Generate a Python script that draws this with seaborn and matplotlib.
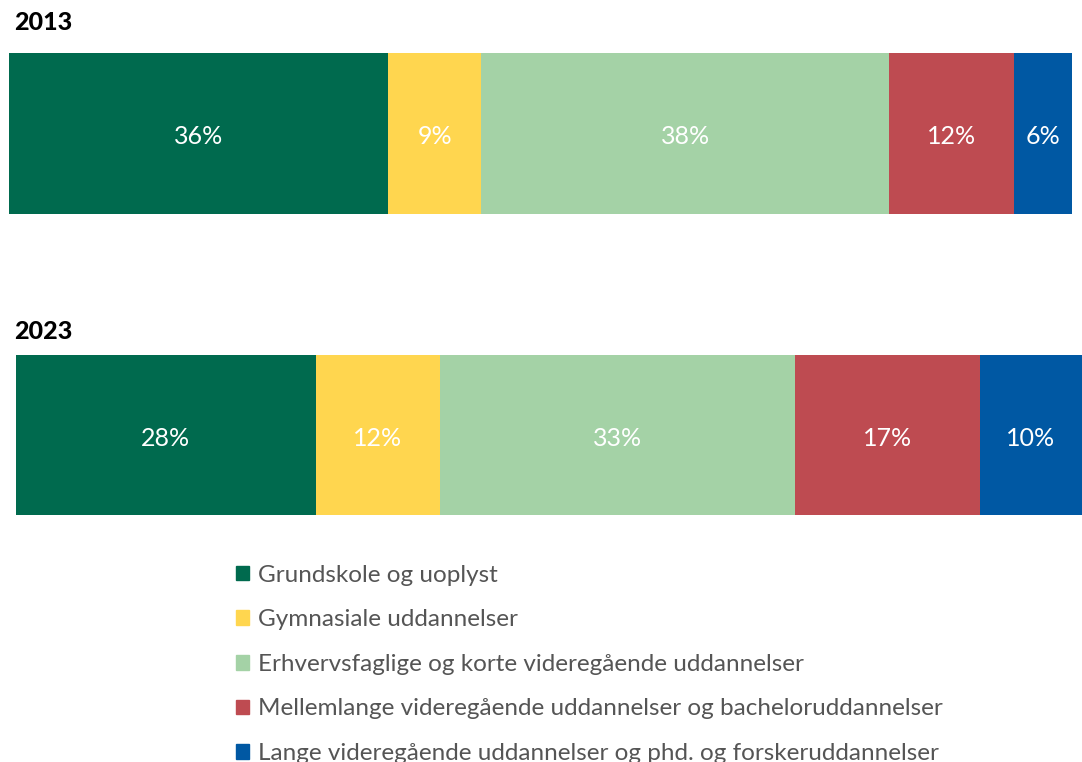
import matplotlib
matplotlib.use("Agg")
import matplotlib.pyplot as plt
import matplotlib.patches as mpatches
import seaborn as sns
import numpy as np

categories = [
    "Grundskole og uoplyst",
    "Gymnasiale uddannelser",
    "Erhvervsfaglige og korte videregående uddannelser",
    "Mellemlange videregående uddannelser og bacheloruddannelser",
    "Lange videregående uddannelser og phd. og forskeruddannelser",
]
colors = ["#006a4e", "#ffd64f", "#a4d2a6", "#be4b51", "#0058a3"]

years = ["2013", "2023"]
values_2013 = [35.7, 8.7, 38.4, 11.7, 5.5]
values_2023 = [28.1, 11.7, 33.3, 17.3, 9.6]
labels_2013 = [36, 9, 38, 12, 6]
labels_2023 = [28, 12, 33, 17, 10]

sns.set_theme(style="white")
plt.rcParams["font.family"] = ["Lato", "DejaVu Sans"]

W, H = 1082, 762
fig = plt.figure(figsize=(W / 100, H / 100), dpi=100)


def px_axes(x0, y0, x1, y1):
    return fig.add_axes([x0 / W, 1 - y1 / H, (x1 - x0) / W, (y1 - y0) / H])


def stacked(ax, year, vals, labs):
    cum = np.cumsum(vals)
    for i in reversed(range(len(vals))):
        sns.barplot(x=[cum[i]], y=[year], color=colors[i], width=1,
                    saturation=1, linewidth=0, orient="h", ax=ax)
    left = np.concatenate([[0], cum[:-1]])
    for l, v, lab in zip(left, vals, labs):
        ax.text(l + v / 2, 0.02, f"{lab}%", ha="center", va="center",
                color="white", fontsize=18, fontweight="normal", zorder=5)
    ax.set_xlim(0, cum[-1])
    ax.set_ylim(0.5, -0.5)
    ax.axis("off")


ax1 = px_axes(9, 53, 1072, 214)
stacked(ax1, years[0], values_2013, labels_2013)
ax2 = px_axes(16, 355, 1082, 515)
stacked(ax2, years[1], values_2023, labels_2023)

fig.text(14 / W, 1 - 22 / H, years[0], ha="left", va="center",
         fontsize=18, fontweight="black", color="black")
fig.text(14 / W, 1 - 331 / H, years[1], ha="left", va="center",
         fontsize=18, fontweight="black", color="black")

handles = [mpatches.Patch(color=c, label=t) for c, t in zip(colors, categories)]
fig.legend(handles=handles, loc="upper left", bbox_to_anchor=(226 / W, 1 - 555 / H),
           frameon=False, fontsize=17.5, labelcolor="#555555",
           handlelength=0.55, handleheight=0.55, handletextpad=0.35,
           labelspacing=0.97, borderaxespad=0)

fig.savefig("out.png", dpi=100)
